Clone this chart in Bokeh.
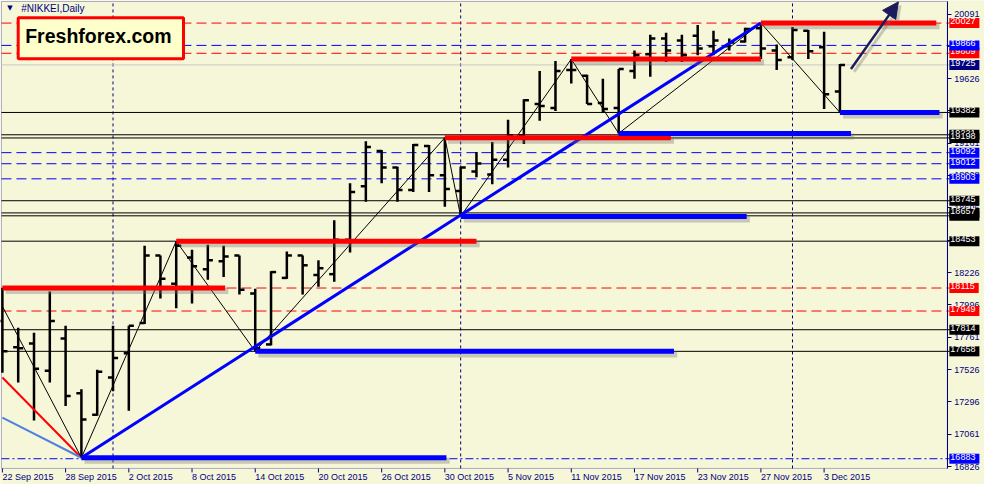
from bokeh.plotting import figure
from bokeh.models import (Range1d, FixedTicker, Label, Arrow, NormalHead,
                          NumeralTickFormatter, BoxAnnotation)
from bokeh.embed import file_html
from bokeh.resources import INLINE

BG = "#F6F6D8"
NAVY = "#000080"
FONT = "Liberation Sans"

# ---------------- data ----------------
# bar index 0 = 22 Sep 2015 (daily bars)
date_ticks = [0, 4, 8, 12, 16, 20, 24, 28, 32, 36, 40, 44, 48, 52]
date_labels = ["22 Sep 2015", "28 Sep 2015", "2 Oct 2015", "8 Oct 2015", "14 Oct 2015",
               "20 Oct 2015", "26 Oct 2015", "30 Oct 2015", "5 Nov 2015", "11 Nov 2015",
               "17 Nov 2015", "23 Nov 2015", "27 Nov 2015", "3 Dec 2015"]

opens = [17877, 17687, 17715, 17518, 17751, 17356, 17201, 17469, 17645, 17863,
         18350, 18145, 18336, 18251, 18308, 18350, 18075, 17708, 18188, 18350,
         18209, 18215, 18463, 18850, 19104, 18984, 18822, 19140, 18928, 18815,
         18956, 18935, 19041, 19217, 19443, 19414, 19689, 19647, 19450, 19414,
         19682, 19802, 19915, 19901, 19936, 19859, 19859, 19894, 19990, 19830,
         19781, 19971, 19852, 19534]
highs = [18115, 17828, 17793, 18089, 17842, 17384, 17525, 17842, 17842, 18420,
         18350, 18453, 18392, 18427, 18420, 18350, 18110, 18237, 18378, 18350,
         18315, 18604, 18872, 19175, 19111, 18991, 19154, 19147, 19200, 18991,
         19097, 19168, 19330, 19478, 19682, 19753, 19767, 19654, 19626, 19696,
         19830, 19943, 19957, 19943, 20014, 19971, 19915, 19993, 20027, 19873,
         19999, 19978, 19964, 19732]
lows = [17504, 17433, 17158, 17433, 17264, 16890, 17194, 17370, 17229, 17856,
        18040, 17969, 18004, 18174, 18195, 18068, 17658, 17701, 18181, 18068,
        18124, 18160, 18371, 18738, 18872, 18738, 18808, 18808, 18702, 18632,
        18914, 18864, 18984, 19154, 19323, 19393, 19591, 19443, 19379, 19231,
        19626, 19640, 19746, 19746, 19795, 19795, 19830, 19887, 19767, 19689,
        19760, 19767, 19407, 19382]
closes = [17659, 17680, 17532, 17877, 17335, 17166, 17511, 17610, 17842, 18350,
          18181, 18420, 18272, 18315, 18343, 18103, 17680, 18230, 18350, 18279,
          18258, 18463, 18808, 19132, 18984, 18822, 19147, 18928, 18829, 18984,
          19013, 19041, 19217, 19471, 19429, 19682, 19689, 19443, 19407, 19696,
          19795, 19915, 19830, 19795, 19844, 19901, 19887, 19985, 19844, 19760,
          19978, 19823, 19513, 19725]

# zigzag swing points
zig_x = [0, 5, 11, 16, 28, 29, 36, 39, 48, 53]
zig_y = [17983, 16890, 18453, 17658, 19200, 18632, 19767, 19231, 20027, 19382]

# trend lines
trend_x = [5, 48]
trend_y = [16890, 20027]
red_diag_x = [0, 5]
red_diag_y = [17469, 16890]
lblue_diag_x = [0, 5]
lblue_diag_y = [17180, 16890]

# thick resistance (red) and support (blue) segments
res_start = [0, 11, 28, 36, 48]
res_end = [14.1, 30, 42.3, 48, 59.1]
res_level = [18115, 18453, 19200, 19767, 20027]
sup_start = [5, 16, 29, 39, 53]
sup_end = [28.1, 42.5, 47.1, 53.7, 59.3]
sup_level = [16890, 17658, 18632, 19231, 19382]

# horizontal levels with price-box labels
level_values = [20027, 19809, 19866, 19725, 19382, 19221, 19198, 19092, 19012, 18903,
                18745, 18636, 18657, 18453, 18115, 17949, 17814, 17658, 16883]
level_kinds = ["red", "red", "blue", "bid", "black", "black", "black", "blue", "blue", "blue",
               "black", "black", "black", "black", "red", "red", "black", "black", "bluedd"]

# month separators (1 Oct, 2 Nov, 1 Dec)
month_sep = [7, 29, 50]

# price axis ticks
price_ticks = [20091, 19858, 19626, 19393, 19161, 18928, 18696, 18461, 18226,
               17996, 17761, 17526, 17296, 17061, 16826]

# ---------------- chart geometry ----------------
X0, X1 = -0.06, 59.8        # chart area (bars)
Y0, Y1 = 16813, 20183       # chart area (price)

p = figure(width=984, height=484, output_backend="svg", toolbar_location=None,
           x_range=Range1d(-0.12, 62.15), y_range=Range1d(16697, 20190),
           y_axis_location="right",
           background_fill_color=BG, border_fill_color=BG,
           min_border_left=0, min_border_top=0, min_border_right=0, min_border_bottom=0)
p.xgrid.visible = False
p.ygrid.visible = False
p.outline_line_color = None

# price axis drawn at the chart's right edge
ya = p.yaxis[0]
ya.fixed_location = X1
ya.bounds = (Y0, Y1)
ya.ticker = FixedTicker(ticks=price_ticks)
ya.formatter = NumeralTickFormatter(format="0")
ya.major_label_text_font = FONT
ya.major_label_text_font_size = "9px"
ya.major_label_text_color = NAVY
ya.axis_line_color = NAVY
ya.major_tick_line_color = NAVY
ya.major_tick_out = 4
ya.major_tick_in = 0
ya.minor_tick_line_color = None
ya.major_label_standoff = 3
ya.axis_label_standoff = 0

# time axis: ticks + left-aligned date labels (MetaTrader style)
p.xaxis.visible = False
tick_len = 29  # price units (~4 px)
p.segment(x0=date_ticks, x1=date_ticks, y0=[Y0] * len(date_ticks),
          y1=[Y0 - tick_len] * len(date_ticks), line_color=NAVY, line_width=1)
for t, lab in zip(date_ticks, date_labels):
    p.add_layout(Label(x=t, y=Y0, y_offset=-4, text=lab, text_font=FONT,
                       text_font_size="9px", text_color=NAVY,
                       text_align="left", text_baseline="top"))

p.add_layout(BoxAnnotation(left=X0, right=X1, bottom=Y0, top=Y1, fill_alpha=0,
                           line_color=NAVY, line_width=1, level="underlay"))

# month separators
p.segment(x0=month_sep, x1=month_sep, y0=[Y0] * len(month_sep), y1=[Y1] * len(month_sep),
          line_color=NAVY, line_dash="3 3", line_width=1)

# level lines
style = {
    "red": dict(line_color="#FF0000", line_dash="10 5"),
    "blue": dict(line_color="#0000FF", line_dash="10 5"),
    "bluedd": dict(line_color="#0000FF", line_dash="8 3 2 3"),
    "black": dict(line_color="#000000", line_dash="solid"),
    "bid": dict(line_color="#C8C8C8", line_dash="solid"),
}
box_col = {"red": "#FF0000", "blue": "#0000FF", "bluedd": "#0000FF",
           "black": "#000000", "bid": "#000080"}
for v, k in zip(level_values, level_kinds):
    p.segment(x0=[X0], x1=[X1 + 0.15], y0=[v], y1=[v], line_width=1, **style[k])

# OHLC bars
xs = list(range(len(opens)))
tick = 0.32
p.segment(x0=xs, y0=lows, x1=xs, y1=highs, line_color="black", line_width=2.5)
p.segment(x0=[x - tick for x in xs], y0=opens, x1=xs, y1=opens, line_color="black", line_width=2.5)
p.segment(x0=xs, y0=closes, x1=[x + tick for x in xs], y1=closes, line_color="black", line_width=2.5)

# diagonal lines
p.line(red_diag_x, red_diag_y, line_color="#FF0000", line_width=2)
p.line(lblue_diag_x, lblue_diag_y, line_color="#5080E0", line_width=2)
p.line(zig_x, zig_y, line_color="black", line_width=1)
p.line(trend_x, trend_y, line_color="#0000FF", line_width=3)

# thick segments with soft shadow
dx, dy = 0.2, 22
p.segment(x0=[s + dx for s in res_start], x1=[e + dx for e in res_end],
          y0=[l - dy for l in res_level], y1=[l - dy for l in res_level],
          line_color="#707070", line_alpha=0.35, line_width=6)
p.segment(x0=[s + dx for s in sup_start], x1=[e + dx for e in sup_end],
          y0=[l - dy for l in sup_level], y1=[l - dy for l in sup_level],
          line_color="#707070", line_alpha=0.35, line_width=6)
p.segment(x0=res_start, x1=res_end, y0=res_level, y1=res_level,
          line_color="#FF0000", line_width=5)
p.segment(x0=sup_start, x1=sup_end, y0=sup_level, y1=sup_level,
          line_color="#0000FF", line_width=5)

# arrow
ARC = "#1B1B5E"
p.add_layout(Arrow(x_start=53.9, y_start=19675, x_end=56.9, y_end=20160,
                   line_color="#707070", line_alpha=0.35, line_width=3,
                   end=NormalHead(size=16, fill_color="#707070", fill_alpha=0.35, line_alpha=0)))
p.add_layout(Arrow(x_start=53.7, y_start=19696, x_end=56.7, y_end=20180,
                   line_color=ARC, line_width=2.5,
                   end=NormalHead(size=16, fill_color=ARC, line_color=ARC)))

# level price boxes on the right
for v, k in zip(level_values, level_kinds):
    p.add_layout(Label(x=X1, y=v, x_offset=2, text=str(v), text_font=FONT,
                       text_font_size="9px", text_color="white",
                       text_align="left", text_baseline="middle",
                       background_fill_color=box_col[k], padding=(1, 4, 0, 4)))

# symbol header
p.add_layout(Label(x=0.47, y=20133, text="▼", text_font="DejaVu Sans", text_font_size="7px",
                   text_color=NAVY, text_align="center", text_baseline="middle"))
p.add_layout(Label(x=1.19, y=20133, text="#NIKKEI,Daily", text_font=FONT, text_font_size="10px",
                   text_color=NAVY, text_align="left", text_baseline="middle"))

# brand box with shadow
p.add_layout(Label(x=1.0, y=19918, x_offset=4, y_offset=-4, text="Freshforex.com",
                   text_font=FONT, text_font_style="bold", text_font_size="19.5px",
                   text_alpha=0, text_align="left", text_baseline="middle",
                   background_fill_color="#808080", background_fill_alpha=0.45,
                   padding=(9, 14, 9, 14)))
p.add_layout(Label(x=1.0, y=19918, text="Freshforex.com",
                   text_font=FONT, text_font_style="bold", text_font_size="19.5px",
                   text_color="black", text_align="left", text_baseline="middle",
                   background_fill_color="#FFFFCC", border_line_color="#FF0000",
                   border_line_width=3, padding=(7, 12, 7, 12)))

open("out.html", "w").write(file_html(p, INLINE))
